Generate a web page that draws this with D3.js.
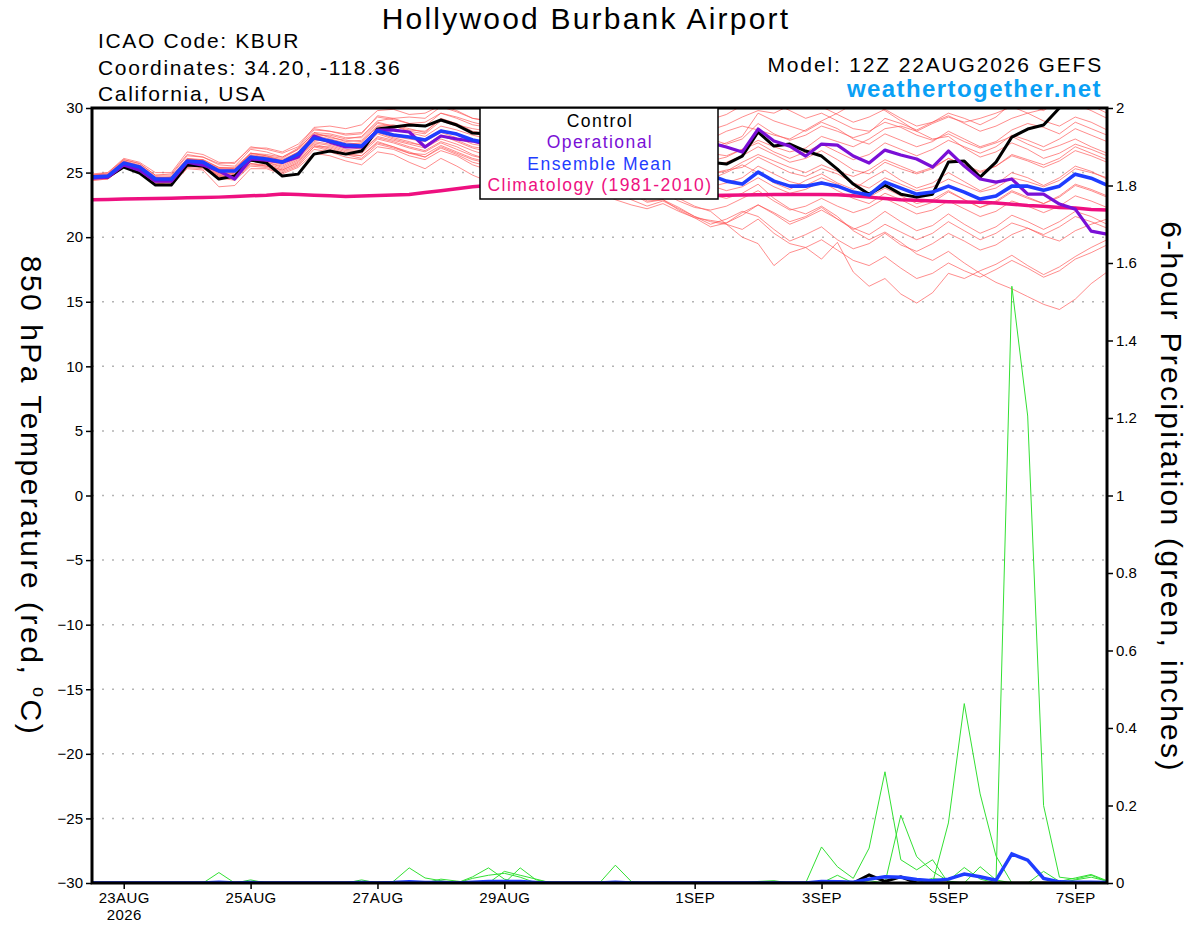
<!DOCTYPE html>
<html>
<head>
<meta charset="utf-8">
<title>KBUR GEFS meteogram</title>
<script src="https://cdn.jsdelivr.net/npm/d3@7"></script>
<style>
  body { margin: 0; background: #fff; }
  text { font-family: "Liberation Sans", Arial, Helvetica, sans-serif; }
</style>
</head>
<body>
<script>

// run: 12Z 22AUG2026, 6-hourly steps out to 16 days (65 points)
var runStart = Date.UTC(2026, 7, 22, 12);
var stepHours = 6;
var forecastDays = 16;

var tempTicks = [-30, -25, -20, -15, -10, -5, 0, 5, 10, 15, 20, 25, 30];
var precipTicks = [0, 0.2, 0.4, 0.6, 0.8, 1, 1.2, 1.4, 1.6, 1.8, 2];
var dateTicks = [Date.UTC(2026,7,23), Date.UTC(2026,7,25), Date.UTC(2026,7,27), Date.UTC(2026,7,29),
                 Date.UTC(2026,8,1), Date.UTC(2026,8,3), Date.UTC(2026,8,5), Date.UTC(2026,8,7)];
var dateLabels = ["23AUG", "25AUG", "27AUG", "29AUG", "1SEP", "3SEP", "5SEP", "7SEP"];

// 850 hPa temperature (C)
var controlTemp = [
  24.65, 24.65, 25.43, 24.96, 24.03, 24.03, 25.58, 25.50, 24.50, 24.73, 25.97, 25.74, 24.73,
  24.88, 26.43, 26.67, 26.43, 26.67, 28.37, 28.53, 28.68, 28.60, 29.07, 28.68, 28.06, 27.98,
  27.9, 27.6, 27.2, 27.4, 27.0, 26.6, 26.8, 26.3, 26.0, 26.2, 25.9, 25.6, 25.9,
  25.8, 25.66, 26.28, 28.14, 27.05, 27.21, 26.67, 26.28, 25.27, 24.11, 23.33, 24.03, 23.33,
  23.10, 23.33, 25.81, 25.89, 24.65, 25.81, 27.75, 28.37, 28.68, 30.0, 31.2, 31.8, 31.5
];
var operationalTemp = [
  24.57, 24.65, 25.58, 25.19, 24.34, 24.34, 25.81, 25.58, 25.12, 24.50, 26.05, 25.97, 25.81,
  26.20, 27.83, 27.36, 26.98, 26.98, 28.29, 28.29, 28.14, 26.98, 27.83, 27.60, 27.44, 27.13,
  27.0, 27.2, 27.5, 27.3, 27.8, 27.4, 27.2, 27.6, 27.3, 27.0, 27.5, 27.2, 27.0,
  27.3, 26.98, 26.59, 28.37, 27.44, 27.05, 26.28, 27.21, 27.13, 26.28, 25.74, 26.74, 26.36,
  26.05, 25.43, 26.67, 25.50, 24.50, 24.26, 24.50, 23.33, 23.33, 22.56, 22.17, 20.47, 20.23
];
var meanTemp = [
  24.65, 24.73, 25.74, 25.43, 24.50, 24.50, 25.89, 25.81, 25.12, 25.12, 26.20, 26.05, 25.81,
  26.43, 27.67, 27.44, 27.13, 27.05, 28.22, 27.91, 27.75, 27.52, 28.22, 27.98, 27.52, 27.29,
  27.1, 27.0, 26.6, 26.6, 26.4, 26.2, 25.8, 25.8, 25.5, 25.3, 25.0, 25.0, 24.9,
  24.8, 24.34, 24.11, 25.04, 24.34, 23.95, 23.95, 24.19, 23.95, 23.49, 23.26, 24.26, 23.80,
  23.33, 23.49, 23.95, 23.49, 22.95, 23.18, 23.95, 23.95, 23.64, 23.95, 24.88, 24.57, 24.03
];
var climoTemp = [
  22.90, 22.92, 22.95, 22.97, 23.00, 23.02, 23.05, 23.07, 23.10, 23.15, 23.20, 23.25, 23.35,
  23.30, 23.25, 23.20, 23.15, 23.18, 23.22, 23.26, 23.30, 23.45, 23.60, 23.75, 23.90, 24.00,
  24.10, 24.15, 24.10, 23.95, 23.80, 23.65, 23.50, 23.35, 23.25, 23.20, 23.20, 23.20, 23.20,
  23.22, 23.25, 23.27, 23.28, 23.30, 23.30, 23.30, 23.30, 23.28, 23.20, 23.10, 23.00, 22.90,
  22.85, 22.80, 22.75, 22.72, 22.70, 22.65, 22.55, 22.45, 22.40, 22.30, 22.25, 22.15, 22.10
];

var memberTemps = [
  [24.8,24.9,26.0,25.7,24.8,24.9,26.4,26.2,25.6,25.5,26.8,26.6,26.2,
   26.9,28.3,28.2,27.9,28.0,29.4,29.2,28.8,28.9,29.6,29.3,28.9,28.6,
   28.4,28.6,28.9,28.5,28.2,28.0,28.4,27.9,27.5,27.8,27.2,27.5,27.9,
   27.6,27.2,27.6,28.8,28.0,27.5,27.9,28.6,28.2,27.7,28.1,29.2,28.8,
   28.3,28.9,29.6,29.2,28.7,29.3,30.4,30.2,29.8,30.6,31.0,30.2,29.6],
  [24.7,24.8,25.9,25.5,24.6,24.7,26.1,25.9,25.3,25.2,26.5,26.3,25.9,
   26.6,28.0,27.8,27.4,27.5,28.8,28.6,28.2,28.0,29.0,28.6,28.1,27.8,
   27.7,27.9,28.3,28.0,27.6,27.2,27.6,27.3,26.8,27.1,27.4,27.0,26.6,
   26.9,27.3,27.8,29.6,29.0,28.6,28.2,28.9,28.4,27.6,27.2,28.0,27.5,
   27.0,27.4,28.2,27.6,27.0,27.4,28.3,28.8,28.5,28.0,28.9,28.4,27.9],
  [24.5,24.6,25.6,25.3,24.4,24.3,25.7,25.6,25.0,24.9,26.0,25.9,25.6,
   26.2,27.5,27.5,27.2,27.3,28.6,28.7,28.4,28.1,29.2,28.8,28.2,28.0,
   28.0,28.3,28.6,28.4,28.1,28.6,29.0,28.7,28.5,28.9,29.3,29.1,28.8,
   29.1,29.5,30.2,31.0,30.4,29.8,29.2,29.6,29.0,28.4,28.2,28.9,28.5,
   27.9,27.5,28.0,27.4,26.9,27.3,27.8,27.2,26.7,27.1,27.6,27.0,26.5],
  [24.9,25.0,26.1,25.8,25.0,25.0,26.6,26.4,25.8,25.7,27.0,26.8,26.5,
   27.0,28.5,28.6,28.4,28.7,29.8,29.9,29.5,29.6,30.2,29.8,29.2,29.0,
   28.7,28.5,28.9,28.3,27.8,27.6,28.1,27.7,27.3,27.0,27.6,27.2,26.8,
   26.5,26.3,26.8,27.5,27.0,26.6,26.9,27.8,27.4,27.0,27.6,28.4,28.6,
   28.2,28.8,29.3,28.9,29.2,29.6,30.1,29.6,29.9,30.5,30.3,29.8,29.2],
  [24.6,24.7,25.6,25.4,24.5,24.4,25.8,25.7,25.0,25.0,26.1,25.9,25.7,
   26.3,27.6,27.3,27.0,26.8,28.0,27.6,27.3,27.1,27.9,27.4,26.9,26.6,
   26.5,26.3,26.6,26.2,25.9,25.7,26.1,25.8,25.3,25.0,25.4,25.1,24.7,
   24.9,25.2,25.4,26.2,25.6,25.0,24.7,25.3,24.9,24.2,23.8,24.6,24.1,
   23.6,23.9,24.5,24.0,23.5,23.8,24.6,24.3,23.9,24.4,25.3,25.0,24.6],
  [24.5,24.6,25.5,25.2,24.3,24.2,25.6,25.4,24.8,24.6,25.7,25.5,25.2,
   25.8,27.2,26.9,26.5,26.3,27.4,27.0,26.6,26.2,27.0,26.5,26.0,25.7,
   25.5,25.3,25.7,25.3,25.0,24.8,25.2,24.7,24.3,24.0,24.4,24.1,23.7,
   23.9,24.2,24.6,25.5,24.9,24.3,24.0,24.6,24.1,23.5,23.1,23.8,23.2,
   22.6,22.9,23.6,22.9,22.3,22.7,23.5,23.0,22.6,23.1,24.0,23.6,23.1],
  [24.4,24.5,25.4,25.1,24.2,24.1,25.4,25.3,24.6,24.4,25.5,25.4,25.0,
   25.5,26.8,26.6,26.2,26.0,27.0,26.8,26.3,26.0,26.7,26.3,25.6,25.2,
   25.0,24.8,25.2,24.6,24.2,23.8,24.1,23.5,22.9,22.4,22.8,22.2,21.6,
   21.2,21.0,20.6,21.4,20.3,19.5,19.2,19.8,19.0,18.2,17.8,18.5,17.6,
   16.8,17.2,18.0,17.4,16.9,17.5,18.2,17.6,16.9,17.4,18.3,18.8,19.4],
  [24.6,24.7,25.7,25.3,24.4,24.3,25.6,25.4,24.7,24.5,25.6,25.5,25.1,
   25.6,27.0,27.0,26.6,26.5,27.6,27.3,26.9,26.6,27.3,26.8,26.3,26.0,
   25.8,25.6,26.0,25.6,25.2,24.9,25.4,25.0,24.6,24.1,24.6,24.2,23.6,
   23.3,23.0,23.4,24.1,23.0,22.2,21.8,22.4,21.6,20.5,19.8,20.4,19.6,
   18.7,18.2,18.9,18.0,17.2,16.5,16.0,15.4,14.8,14.4,15.2,16.4,17.3],
  [24.7,24.8,25.8,25.5,24.5,24.5,25.9,25.7,24.9,24.9,26.0,25.8,25.4,
   26.0,27.3,27.1,26.7,26.6,27.8,27.5,27.2,26.9,27.6,27.2,26.7,26.3,
   26.1,25.8,26.1,25.6,25.2,24.7,25.0,24.4,23.9,23.3,23.6,23.0,22.4,
   22.0,21.0,20.0,19.5,17.8,18.8,19.2,18.3,19.6,17.3,16.2,16.8,15.6,
   14.9,15.7,17.2,16.8,17.4,17.9,18.6,17.8,17.1,17.7,18.5,19.2,19.8],
  [24.5,24.6,25.6,25.3,24.3,24.2,25.7,25.5,24.8,24.8,25.9,25.8,25.5,
   26.1,27.4,27.2,26.8,26.7,27.7,27.4,27.0,26.7,27.4,27.0,26.4,26.0,
   25.7,25.4,25.8,25.3,24.8,24.5,24.9,24.2,23.6,22.8,22.9,22.3,21.6,
   21.0,21.4,22.0,21.6,20.6,19.7,20.2,20.8,19.8,19.1,19.5,20.3,19.4,
   18.9,19.5,20.3,19.7,19.0,19.4,20.2,20.7,20.1,19.7,20.5,21.0,21.4],
  [24.8,24.9,25.9,25.6,24.7,24.6,26.0,25.9,25.3,25.3,26.4,26.2,26.0,
   26.6,27.9,27.6,27.3,27.2,28.4,28.0,27.8,27.6,28.3,27.9,27.4,27.1,
   26.9,26.7,27.0,26.5,26.1,25.8,26.2,25.7,25.2,24.9,25.3,24.9,24.4,
   24.0,23.6,23.9,24.6,23.9,23.4,23.7,24.3,23.6,23.0,22.6,23.4,22.9,
   22.3,22.7,23.5,22.9,22.3,22.8,23.6,23.1,22.6,23.2,24.1,23.7,23.2],
  [24.6,24.8,25.8,25.5,24.6,24.6,26.0,26.0,25.4,25.4,26.5,26.3,26.1,
   26.8,28.1,27.7,27.5,27.4,28.6,28.4,28.1,27.8,28.6,28.3,27.9,27.6,
   27.4,27.2,27.5,27.1,26.8,26.5,26.9,26.4,26.0,25.8,26.2,25.9,25.4,
   25.5,25.8,26.3,27.0,26.4,25.8,26.1,26.7,26.0,25.2,24.9,25.8,25.3,
   24.9,25.3,26.1,25.6,25.0,25.5,26.4,26.0,25.6,26.1,27.0,26.5,26.0],
  [24.4,24.5,25.5,25.2,24.2,24.0,25.3,25.2,23.9,24.0,25.3,25.3,24.9,
   25.4,26.5,26.3,25.9,25.6,26.6,26.4,25.8,25.3,26.1,25.5,24.8,24.3,
   24.1,23.9,24.3,23.8,23.4,23.1,23.5,22.9,22.5,22.2,22.6,22.0,21.5,
   21.3,21.1,21.7,22.5,21.8,21.0,21.5,22.1,21.4,20.7,20.2,21.0,20.4,
   19.8,20.3,21.2,20.5,19.8,20.3,21.1,20.7,20.2,20.8,21.6,21.2,20.7],
  [24.7,24.8,25.7,25.4,24.6,24.5,25.9,25.8,25.2,25.1,26.3,26.2,25.9,
   26.5,27.8,27.3,27.0,26.9,28.1,27.7,27.4,27.0,27.8,27.5,27.0,26.8,
   26.6,26.4,26.8,26.3,26.0,25.7,26.0,25.4,25.0,24.6,25.2,24.8,24.2,
   24.5,25.0,25.6,25.0,24.2,23.7,24.4,24.9,24.2,23.7,24.5,25.2,24.4,
   23.8,24.2,25.0,24.3,23.6,24.1,25.0,24.6,24.0,24.6,25.5,25.1,24.5],
  [24.8,25.0,26.0,25.7,24.8,24.8,26.3,26.2,25.7,25.8,26.9,26.9,26.6,
   27.2,28.4,28.2,28.0,28.1,29.3,29.1,28.8,28.6,29.6,29.2,28.7,28.5,
   28.3,28.0,28.3,27.9,27.7,27.9,28.4,28.0,27.7,28.0,28.6,28.3,28.0,
   28.3,28.7,29.3,29.8,29.6,30.2,30.6,30.1,29.5,28.9,29.3,29.9,29.2,
   28.6,28.9,29.4,28.8,28.2,28.6,29.2,29.6,29.0,28.6,29.3,28.9,28.3],
  [24.5,24.6,25.5,25.2,24.3,24.2,25.5,25.4,24.7,24.6,25.7,25.6,25.2,
   25.7,27.0,26.7,26.4,26.1,27.2,26.9,26.5,26.2,26.9,26.4,25.8,25.5,
   25.3,25.0,25.4,24.9,24.5,24.2,24.6,24.1,23.5,23.0,23.4,22.8,22.3,
   22.1,22.4,23.0,23.6,22.8,22.1,22.4,23.0,22.4,21.9,22.3,23.0,22.4,
   21.8,22.1,22.8,22.2,21.6,22.0,22.8,22.4,21.9,22.4,23.2,22.8,22.3],
  [24.7,24.8,25.8,25.5,24.6,24.6,26.1,26.0,25.4,25.3,26.5,26.4,26.2,
   26.8,28.1,28.0,27.7,27.7,28.9,28.6,28.3,28.2,29.1,28.7,28.4,28.2,
   28.0,27.8,28.1,27.7,27.4,27.0,27.3,26.9,26.4,26.2,26.6,26.3,25.8,
   25.9,26.2,26.8,27.3,26.6,26.1,26.6,27.2,26.6,26.0,26.4,27.3,26.8,
   26.3,26.8,27.5,27.0,26.5,27.0,27.9,27.5,27.0,27.6,28.4,27.9,27.4],
  [24.6,24.7,25.7,25.4,24.5,24.4,25.9,25.8,25.2,25.2,26.3,26.1,25.9,
   26.5,27.9,27.9,27.6,27.8,29.0,29.2,29.3,29.2,30.1,29.7,29.2,29.0,
   28.8,28.6,29.0,28.6,28.2,27.9,28.3,27.9,27.6,27.4,27.9,27.6,27.3,
   27.6,28.2,28.6,28.3,27.9,27.6,28.3,29.0,29.6,30.3,30.6,29.8,29.0,
   28.2,27.6,27.8,26.9,26.2,26.6,27.3,26.8,26.1,26.5,27.2,26.8,26.3],
  [24.6,24.6,25.6,25.3,24.3,24.3,25.8,25.5,24.9,24.8,25.9,25.7,25.3,
   25.9,27.1,26.8,26.4,26.3,27.3,27.0,26.5,26.4,27.1,26.6,26.1,25.8,
   25.6,25.4,25.8,25.1,24.7,24.4,24.8,24.1,23.4,22.7,22.9,22.1,21.5,
   20.8,21.1,21.9,22.5,21.9,21.2,21.6,22.3,21.4,20.6,21.1,22.0,21.2,
   20.5,20.9,21.8,21.0,20.3,20.8,21.7,21.2,20.6,21.2,22.0,21.6,21.0],
  [24.7,24.7,25.8,25.5,24.5,24.5,26.0,25.9,25.2,25.1,26.2,26.1,25.8,
   26.4,27.7,27.4,27.1,27.0,28.2,27.8,27.6,27.4,28.1,27.7,27.2,27.0,
   26.8,26.7,27.0,26.6,26.2,25.9,26.3,25.9,25.4,25.1,25.6,25.2,24.8,
   24.9,25.1,25.8,26.4,25.9,25.4,25.0,25.6,25.1,24.7,25.2,26.0,25.5,
   25.0,25.4,26.1,25.6,25.1,25.5,26.3,25.9,25.4,25.9,26.7,26.3,25.8]
];

// 6-hour precipitation (inches)
var memberPrecip = [
  [0,0,0,0,0,0,0,0,0.027,0,0,0,0,
   0,0,0,0,0,0,0,0,0,0,0,0,0,
   0,0,0,0,0,0,0,0,0,0,0,0,0,
   0,0,0,0,0,0,0,0.093,0.042,0.012,0.09,0.287,0.06,
   0.034,0.06,0,0,0,0,0,0,0,0,0,0,0],
  [0,0,0,0,0,0,0,0,0,0,0,0,0,
   0,0,0,0,0,0,0.004,0.039,0.013,0.006,0,0.016,0.039,
   0.01,0,0,0,0,0,0,0,0,0,0,0,0,
   0,0,0,0,0,0,0,0,0,0,0,0,0.175,
   0.068,0.03,0.005,0,0,0,0,0,0,0,0,0,0],
  [0,0,0,0,0,0,0,0,0,0,0,0,0,
   0,0,0,0,0,0,0,0,0,0,0,0,0,
   0,0.039,0.008,0,0,0,0,0.046,0.004,0,0,0,0,
   0,0,0,0,0,0,0,0,0,0,0,0,0,
   0,0,0.155,0.463,0.23,0.07,0,0,0,0,0,0,0],
  [0,0,0,0,0,0,0,0,0,0,0.008,0,0,
   0,0,0,0,0,0,0,0,0,0,0,0,0,
   0,0,0,0,0,0,0,0,0,0,0,0,0,
   0,0,0,0,0,0,0,0,0,0,0,0,0,
   0,0,0,0,0,0,1.54,1.205,0.2,0.015,0.01,0.02,0.004],
  [0,0,0,0,0,0,0,0,0,0,0,0,0,
   0,0,0,0,0.008,0,0,0,0,0,0,0.012,0.02,
   0.025,0.015,0,0,0,0,0,0,0,0,0,0,0,
   0,0,0,0,0,0,0,0,0.02,0,0.006,0,0,
   0,0,0,0,0.042,0.008,0,0,0.03,0.004,0.013,0.022,0.006],
  [0,0,0,0,0,0,0,0,0,0,0,0,0,
   0,0,0,0,0,0,0,0,0,0.01,0.005,0,0,
   0.03,0.02,0.01,0,0,0,0,0,0,0,0.003,0,0,
   0,0,0,0.004,0.006,0,0,0,0,0,0,0,0,
   0,0.012,0.006,0.04,0.01,0,0,0,0,0,0.008,0.015,0.005]
];
var controlPrecip = [
  0,0,0,0,0,0,0,0,0,0,0,0,0,
  0,0,0,0,0,0,0,0,0,0,0,0,0,
  0,0,0,0,0,0,0,0,0,0,0,0,0,
  0,0,0,0,0,0,0,0,0.003,0,0.021,0.004,0.016,
  0,0,0,0,0,0,0,0,0,0,0,0,0
];
var meanPrecip = [
  0,0,0,0,0,0,0,0,0.002,0,0.001,0,0,
  0,0,0,0,0.001,0,0.001,0.003,0.001,0.001,0,0.002,0.004,
  0.004,0.004,0.001,0,0,0,0,0.002,0,0,0,0,0,
  0,0,0,0,0,0,0,0.004,0.003,0.002,0.01,0.016,0.015,
  0.009,0.006,0.01,0.023,0.016,0.007,0.075,0.059,0.012,0.003,0.002,0.002,0.001
];

var W = 1200, H = 927;
var plotL = 92, plotR = 1107, plotT = 108, plotB = 883;

var colors = {
  member: "#ff5555", precip: "#33e033", control: "#000000",
  oper: "#7a0fd6", mean: "#1f3dff", climo: "#ee1080", site: "#0aa0f5"
};

var svg = d3.select("body").append("svg")
  .attr("width", W).attr("height", H);

var x = d3.scaleUtc()
  .domain([new Date(runStart), new Date(runStart + forecastDays * 24 * 3600e3)])
  .range([plotL, plotR]);
var yT = d3.scaleLinear().domain([-30, 30]).range([plotB, plotT]);
var yP = d3.scaleLinear().domain([0, 2]).range([plotB, plotT]);

function timeAt(i) { return new Date(runStart + i * stepHours * 3600e3); }

svg.append("clipPath").attr("id", "plotclip")
  .append("rect").attr("x", plotL).attr("y", plotT)
  .attr("width", plotR - plotL).attr("height", plotB - plotT);

// dotted grid on the temperature ticks
svg.append("g").selectAll("line")
  .data(tempTicks.filter(function (d) { return d > -30 && d < 30; }))
  .enter().append("line")
  .attr("x1", plotL).attr("x2", plotR)
  .attr("y1", function (d) { return yT(d); })
  .attr("y2", function (d) { return yT(d); })
  .attr("stroke", "#b4b4b4").attr("stroke-width", 1.5)
  .attr("stroke-dasharray", "2,8");

var plot = svg.append("g").attr("clip-path", "url(#plotclip)");

var tempLine = d3.line()
  .x(function (d, i) { return x(timeAt(i)); })
  .y(function (d) { return yT(d); });
var precipLine = d3.line()
  .x(function (d, i) { return x(timeAt(i)); })
  .y(function (d) { return yP(d); });

plot.selectAll(".member")
  .data(memberTemps).enter().append("path")
  .attr("class", "member")
  .attr("d", tempLine)
  .attr("fill", "none").attr("stroke", colors.member)
  .attr("stroke-width", 0.9).attr("stroke-opacity", 0.75);

plot.selectAll(".mprecip")
  .data(memberPrecip).enter().append("path")
  .attr("class", "mprecip")
  .attr("d", precipLine)
  .attr("fill", "none").attr("stroke", colors.precip)
  .attr("stroke-width", 1);

plot.append("path").attr("d", precipLine(controlPrecip))
  .attr("fill", "none").attr("stroke", colors.control).attr("stroke-width", 3);
plot.append("path").attr("d", precipLine(meanPrecip))
  .attr("fill", "none").attr("stroke", colors.mean).attr("stroke-width", 3.5);

plot.append("path").attr("d", tempLine(climoTemp))
  .attr("fill", "none").attr("stroke", colors.climo).attr("stroke-width", 3.5);
plot.append("path").attr("d", tempLine(controlTemp))
  .attr("fill", "none").attr("stroke", colors.control).attr("stroke-width", 3)
  .attr("stroke-linejoin", "round");
plot.append("path").attr("d", tempLine(operationalTemp))
  .attr("fill", "none").attr("stroke", colors.oper).attr("stroke-width", 3.2)
  .attr("stroke-linejoin", "round");
plot.append("path").attr("d", tempLine(meanTemp))
  .attr("fill", "none").attr("stroke", colors.mean).attr("stroke-width", 3.6)
  .attr("stroke-linejoin", "round");

// axes
var fmt = d3.format("~g");
var axL = svg.append("g").attr("transform", "translate(" + plotL + ",0)")
  .call(d3.axisLeft(yT).tickValues(tempTicks).tickSize(6).tickPadding(3).tickFormat(fmt));
var axR = svg.append("g").attr("transform", "translate(" + plotR + ",0)")
  .call(d3.axisRight(yP).tickValues(precipTicks).tickSize(6).tickPadding(3).tickFormat(fmt));
var axB = svg.append("g").attr("transform", "translate(0," + plotB + ")")
  .call(d3.axisBottom(x).tickValues(dateTicks.map(function (d) { return new Date(d); }))
    .tickSize(6).tickPadding(3)
    .tickFormat(function (d, i) { return dateLabels[i]; }));

[axL, axR, axB].forEach(function (a) {
  a.select(".domain").remove();
  a.selectAll("line").attr("stroke", "#000").attr("stroke-width", 1.5);
  a.selectAll("text").attr("font-size", 15).attr("fill", "#000")
    .attr("font-family", "'Liberation Sans', Arial, sans-serif");
});
axB.selectAll("text").attr("letter-spacing", 0.4);
axB.select(".tick text").append("tspan")
  .attr("x", 0).attr("dy", "1.15em").text("2026");

// frame
svg.append("rect").attr("x", plotL).attr("y", plotT)
  .attr("width", plotR - plotL).attr("height", plotB - plotT)
  .attr("fill", "none").attr("stroke", "#000").attr("stroke-width", 3);

// legend
var lg = svg.append("g");
lg.append("rect").attr("x", 480).attr("y", plotT).attr("width", 238).attr("height", 91)
  .attr("fill", "#fff").attr("stroke", "#000").attr("stroke-width", 1.5);
var legendItems = [
  ["Control", colors.control], ["Operational", colors.oper],
  ["Ensemble Mean", colors.mean], ["Climatology (1981-2010)", colors.climo]
];
lg.selectAll(".lt").data(legendItems).enter().append("text")
  .attr("x", 600).attr("y", function (d, i) { return 127 + i * 21.3; })
  .attr("text-anchor", "middle").attr("font-size", 17.5)
  .attr("letter-spacing", 1.45)
  .attr("fill", function (d) { return d[1]; })
  .text(function (d) { return d[0]; });

// headings
svg.append("text").attr("x", 586).attr("y", 29).attr("text-anchor", "middle")
  .attr("font-size", 30).attr("letter-spacing", 2.2).text("Hollywood Burbank Airport");
var info = ["ICAO Code: KBUR", "Coordinates: 34.20, -118.36", "California, USA"];
svg.selectAll(".info").data(info).enter().append("text")
  .attr("x", 98).attr("y", function (d, i) { return 48 + i * 26.5; })
  .attr("font-size", 21).attr("letter-spacing", 1.65).text(function (d) { return d; });
svg.append("text").attr("x", 1103).attr("y", 72).attr("text-anchor", "end")
  .attr("font-size", 21).attr("letter-spacing", 1.84).text("Model: 12Z 22AUG2026 GEFS");
svg.append("text").attr("x", 1102).attr("y", 97).attr("text-anchor", "end")
  .attr("font-size", 24).attr("font-weight", "bold").attr("letter-spacing", 1.42)
  .attr("fill", colors.site).text("weathertogether.net");

var yl = svg.append("text").attr("transform", "translate(21,496) rotate(90)")
  .attr("text-anchor", "middle").attr("font-size", 30).attr("letter-spacing", 2.5);
yl.append("tspan").text("850 hPa Temperature (red, ");
yl.append("tspan").attr("font-size", 18).attr("dy", -12).text("o");
yl.append("tspan").attr("dy", 12).text("C)");

svg.append("text").attr("transform", "translate(1161,497) rotate(90)")
  .attr("text-anchor", "middle").attr("font-size", 30).attr("letter-spacing", 2.3)
  .text("6-hour Precipitation (green, inches)");

</script>
</body>
</html>
